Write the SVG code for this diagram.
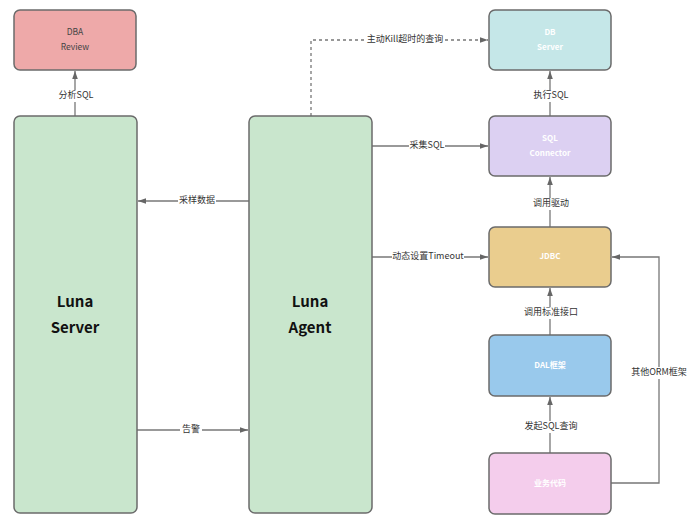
<svg xmlns="http://www.w3.org/2000/svg" width="693" height="528" viewBox="0 0 693 528">
<defs>
<marker id="arr" viewBox="0 0 10 10" refX="10" refY="5" markerWidth="8" markerHeight="8" markerUnits="userSpaceOnUse" orient="auto">
<path d="M0,1.5 L10,5 L0,8.5 z" fill="#666"/>
</marker>
</defs>
<style>
.node rect{stroke:#6b6b6b;stroke-width:1.5}
.t{font-family:"Microsoft YaHei","Noto Sans CJK SC","Liberation Sans",sans-serif;text-anchor:middle;dominant-baseline:middle}
.w{fill:#fff;font-weight:bold;font-size:8px}
.big{fill:#111;font-weight:bold;font-size:15px}
.g{fill:#444;font-size:8.5px}
.conn path{fill:none;stroke:#777;stroke-width:1.3;marker-end:url(#arr)}
.lbl{font-family:"Noto Sans CJK SC","Liberation Sans",sans-serif;font-size:9px;fill:#333;text-anchor:middle;dominant-baseline:middle}
.bg{fill:#fff}
</style>
<rect width="693" height="528" fill="#fff"/>
<g class="conn">
<path d="M75,116 L75,71"/>
<path d="M311,116 L311,40 L488,40" stroke-dasharray="3,3"/>
<path d="M550,116 L550,71"/>
<path d="M372,146 L488,146"/>
<path d="M249,201 L138,201"/>
<path d="M372,257 L488,257"/>
<path d="M550,227 L550,177"/>
<path d="M550,335 L550,288"/>
<path d="M550,453 L550,397"/>
<path d="M611,483 L659,483 L659,257 L612,257"/>
<path d="M137,430 L248,430"/>
<rect class="bg" x="57" y="90" width="38" height="12"/>
<text class="lbl" x="76" y="96">分析SQL</text>
<rect class="bg" x="365" y="34" width="80" height="12"/>
<text class="lbl" x="405" y="40">主动Kill超时的查询</text>
<rect class="bg" x="532" y="90" width="38" height="12"/>
<text class="lbl" x="551" y="96">执行SQL</text>
<rect class="bg" x="409" y="140" width="36" height="12"/>
<text class="lbl" x="427" y="146">采集SQL</text>
<rect class="bg" x="178" y="195" width="38" height="12"/>
<text class="lbl" x="197" y="201">采样数据</text>
<rect class="bg" x="392" y="251" width="72" height="12"/>
<text class="lbl" x="428" y="257">动态设置Timeout</text>
<rect class="bg" x="531" y="198" width="40" height="12"/>
<text class="lbl" x="551" y="204">调用驱动</text>
<rect class="bg" x="523" y="307" width="56" height="12"/>
<text class="lbl" x="551" y="313">调用标准接口</text>
<rect class="bg" x="524" y="421" width="54" height="12"/>
<text class="lbl" x="551" y="427">发起SQL查询</text>
<rect class="bg" x="630" y="367" width="58" height="12"/>
<text class="lbl" x="659" y="373">其他ORM框架</text>
<rect class="bg" x="180" y="424" width="22" height="12"/>
<text class="lbl" x="191" y="430">告警</text>
</g>
<g id="dba" class="node">
<rect x="14" y="10" width="122" height="60" rx="6" fill="#EEA9A9"/>
<text class="t g" x="75" y="33">DBA</text>
<text class="t g" x="75" y="48">Review</text>
</g>
<g id="luna-server" class="node">
<rect x="14" y="116" width="123" height="397" rx="6" fill="#C9E6CD"/>
<text class="t big" x="75" y="303">Luna</text>
<text class="t big" x="75" y="329">Server</text>
</g>
<g id="luna-agent" class="node">
<rect x="249" y="116" width="123" height="397" rx="6" fill="#C9E6CD"/>
<text class="t big" x="310" y="303">Luna</text>
<text class="t big" x="310" y="329">Agent</text>
</g>
<g id="db-server" class="node">
<rect x="489" y="10" width="122" height="60" rx="6" fill="#C5E7E8"/>
<text class="t w" x="550" y="33">DB</text>
<text class="t w" x="550" y="48">Server</text>
</g>
<g id="sql-connector" class="node">
<rect x="489" y="116" width="122" height="60" rx="6" fill="#DCD0F2"/>
<text class="t w" x="550" y="139">SQL</text>
<text class="t w" x="550" y="154">Connector</text>
</g>
<g id="jdbc" class="node">
<rect x="489" y="227" width="122" height="60" rx="6" fill="#EACD8E"/>
<text class="t w" x="550" y="257">JDBC</text>
</g>
<g id="dal" class="node">
<rect x="489" y="335" width="122" height="61" rx="6" fill="#99C9EC"/>
<text class="t w" x="550" y="366">DAL框架</text>
</g>
<g id="biz" class="node">
<rect x="489" y="453" width="122" height="61" rx="6" fill="#F4CDEC"/>
<text class="t w" x="550" y="484">业务代码</text>
</g>
</svg>
